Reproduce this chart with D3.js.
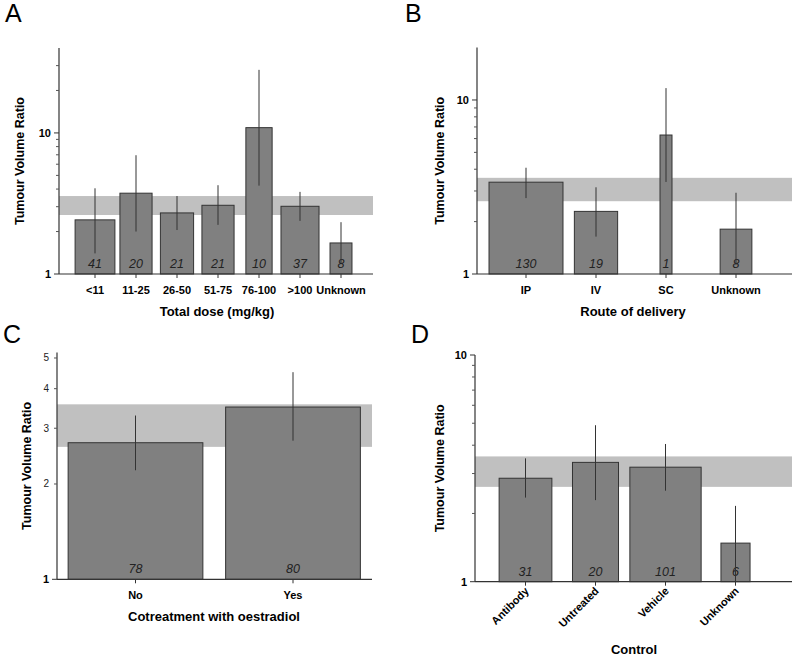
<!DOCTYPE html>
<html><head><meta charset="utf-8">
<script src="https://cdn.jsdelivr.net/npm/d3@7"></script>
<style>body{margin:0;background:#fff;} svg{display:block;font-family:"Liberation Sans",Arial,sans-serif;}</style>
</head><body><svg id="c" width="795" height="658"></svg>
<script>
// ---- data ----
const refBand = [2.62, 3.57];

const catA = ["<11","11-25","26-50","51-75","76-100",">100","Unknown"];
const valA = [2.42, 3.74, 2.71, 3.07, 10.9, 3.02, 1.66];
const loA  = [1.40, 2.00, 2.05, 2.23, 4.23, 2.38, 1.19];
const hiA  = [4.05, 6.95, 3.57, 4.26, 28.0, 3.82, 2.33];
const nA   = [41, 20, 21, 21, 10, 37, 8];
const wA   = [23, 15, 16, 15, 10, 21, 7];

const catB = ["IP","IV","SC","Unknown"];
const valB = [3.37, 2.29, 6.29, 1.81];
const loB  = [2.73, 1.64, 3.38, 1.13];
const hiB  = [4.08, 3.15, 11.7, 2.93];
const nB   = [130, 19, 1, 8];
const wB   = [38, 13, 1, 7];

const catC = ["No","Yes"];
const valC = [2.70, 3.50];
const loC  = [2.21, 2.74];
const hiC  = [3.29, 4.51];
const nC   = [78, 80];
const wC   = [30, 30];

const catD = ["Antibody","Untreated","Vehicle","Unknown"];
const valD = [2.86, 3.36, 3.20, 1.48];
const loD  = [2.35, 2.29, 2.52, 1.00];
const hiD  = [3.50, 4.90, 4.05, 2.16];
const nD   = [31, 20, 101, 6];
const wD   = [23, 17.5, 42, 7];

const yTitle = "Tumour Volume Ratio";

// ---- layout ----
const panels = [
  {letter:"A", lx:5, ly:22, cats:catA, val:valA, lo:loA, hi:hiA, n:nA, w:wA, k:8.3,
   ax:[59,373], yr:[274,48], dom:[1,40], cr:[95,341], majors:[1,10], minors:[2,3,4,5,6,7,8,9,20,30],
   ytx:20, xt:"Total dose (mg/kg)", xtx:217, xty:316, rot:false},
  {letter:"B", lx:405, ly:22, cats:catB, val:valB, lo:loB, hi:hiB, n:nB, w:wB, k:12,
   ax:[477,792], yr:[274,47.6], dom:[1,20], cr:[526,736], majors:[1,10], minors:[2,3,4,5,6,7,8,9],
   ytx:440, xt:"Route of delivery", xtx:633, xty:316, rot:false},
  {letter:"C", lx:3, ly:343, cats:catC, val:valC, lo:loC, hi:hiC, n:nC, w:wC, k:24.6,
   ax:[57,372], yr:[579.3,352.6], dom:[1,5.2], cr:[135.5,293], majors:[1], minorsLab:[2,3,4,5], minors:[2,3,4,5],
   ytx:27, xt:"Cotreatment with oestradiol", xtx:214, xty:621, rot:false},
  {letter:"D", lx:411, ly:343, cats:catD, val:valD, lo:loD, hi:hiD, n:nD, w:wD, k:11,
   ax:[475,792], yr:[581.7,355], dom:[1,10], cr:[525.5,735.5], majors:[1,10], minors:[2,3,4,5,6,7,8,9],
   ytx:440, xt:"Control", xtx:634, xty:654, rot:true}
];

const svg = d3.select("#c");
const dark = "#333";

panels.forEach(p => {
  const g = svg.append("g");
  const y = d3.scaleLog().domain(p.dom).range(p.yr);
  const x = d3.scalePoint().domain(p.cats).range(p.cr);
  const y0 = y(p.dom[0]);

  g.append("text").attr("x", p.lx).attr("y", p.ly).attr("font-size", 25).attr("fill", "#000").text(p.letter);

  // reference band
  g.append("rect").attr("x", p.ax[0]).attr("width", p.ax[1]-p.ax[0])
    .attr("y", y(refBand[1])).attr("height", y(refBand[0]) - y(refBand[1]))
    .attr("fill", "#c0c0c0");

  // bars
  const data = p.cats.map((c,i)=>({c, v:p.val[i], lo:p.lo[i], hi:p.hi[i], n:p.n[i], w:p.w[i]}));
  const bw = d => p.k*Math.sqrt(d.w);
  g.selectAll(".bar").data(data).join("rect")
    .attr("x", d => x(d.c) - bw(d)/2).attr("width", bw)
    .attr("y", d => y(d.v)).attr("height", d => y0 - y(d.v))
    .attr("fill", "#808080").attr("stroke", dark).attr("stroke-width", 1);

  // n labels
  g.selectAll(".n").data(data).join("text")
    .attr("x", d => x(d.c)).attr("y", y0 - 6)
    .attr("text-anchor", "middle").attr("font-size", 12.5).attr("font-style", "italic").attr("fill", "#222")
    .text(d => d.n);

  // error bars
  g.selectAll(".err").data(data).join("line")
    .attr("x1", d => x(d.c)).attr("x2", d => x(d.c))
    .attr("y1", d => y(Math.max(d.lo, p.dom[0]))).attr("y2", d => y(d.hi))
    .attr("stroke", dark).attr("stroke-width", 1);

  // y axis
  g.append("line").attr("x1", p.ax[0]).attr("x2", p.ax[0]).attr("y1", p.yr[1]).attr("y2", y0)
    .attr("stroke", dark).attr("stroke-width", 1.2);
  g.selectAll(".mt").data(p.minors).join("line")
    .attr("x1", p.ax[0]-3).attr("x2", p.ax[0]).attr("y1", d=>y(d)).attr("y2", d=>y(d))
    .attr("stroke", "#555").attr("stroke-width", 1);
  g.selectAll(".Mt").data(p.majors).join("line")
    .attr("x1", p.ax[0]-5).attr("x2", p.ax[0]).attr("y1", d=>y(d)).attr("y2", d=>y(d))
    .attr("stroke", dark).attr("stroke-width", 1);
  g.selectAll(".Ml").data(p.majors).join("text")
    .attr("x", p.ax[0]-8).attr("y", d=>y(d)+4).attr("text-anchor","end")
    .attr("font-size", 11).attr("font-weight","bold").attr("fill","#000").text(d=>d);
  if (p.minorsLab) {
    g.selectAll(".ml").data(p.minorsLab).join("text")
      .attr("x", p.ax[0]-8).attr("y", d=>y(d)+3.5).attr("text-anchor","end")
      .attr("font-size", 10).attr("fill","#222").text(d=>d);
  }

  // x axis
  g.append("line").attr("x1", p.ax[0]).attr("x2", p.ax[1]).attr("y1", y0).attr("y2", y0)
    .attr("stroke", dark).attr("stroke-width", 1.2);
  g.selectAll(".xt").data(p.cats).join("line")
    .attr("x1", d=>x(d)).attr("x2", d=>x(d)).attr("y1", y0).attr("y2", y0+4)
    .attr("stroke", dark).attr("stroke-width", 1);
  if (p.rot) {
    g.selectAll(".xl").data(p.cats).join("text")
      .attr("transform", d=>`translate(${x(d)+4},${y0+10}) rotate(-45)`)
      .attr("text-anchor","end").attr("font-size", 11).attr("font-weight","bold").attr("fill","#000")
      .text(d=>d);
  } else {
    g.selectAll(".xl").data(p.cats).join("text")
      .attr("x", d=>x(d)).attr("y", y0+20).attr("text-anchor","middle")
      .attr("font-size", 11).attr("font-weight","bold").attr("fill","#000").text(d=>d);
  }

  // titles
  g.append("text").attr("x", p.xtx).attr("y", p.xty).attr("text-anchor","middle")
    .attr("font-size", 13).attr("font-weight","bold").attr("fill","#000").text(p.xt);
  const ymid = (p.yr[0]+p.yr[1])/2;
  g.append("text").attr("transform", `translate(${p.ytx},${ymid}) rotate(-90)`)
    .attr("text-anchor","middle").attr("dy", "0.35em")
    .attr("font-size", 12.5).attr("font-weight","bold").attr("fill","#000").text(yTitle);
});
</script></body></html>
